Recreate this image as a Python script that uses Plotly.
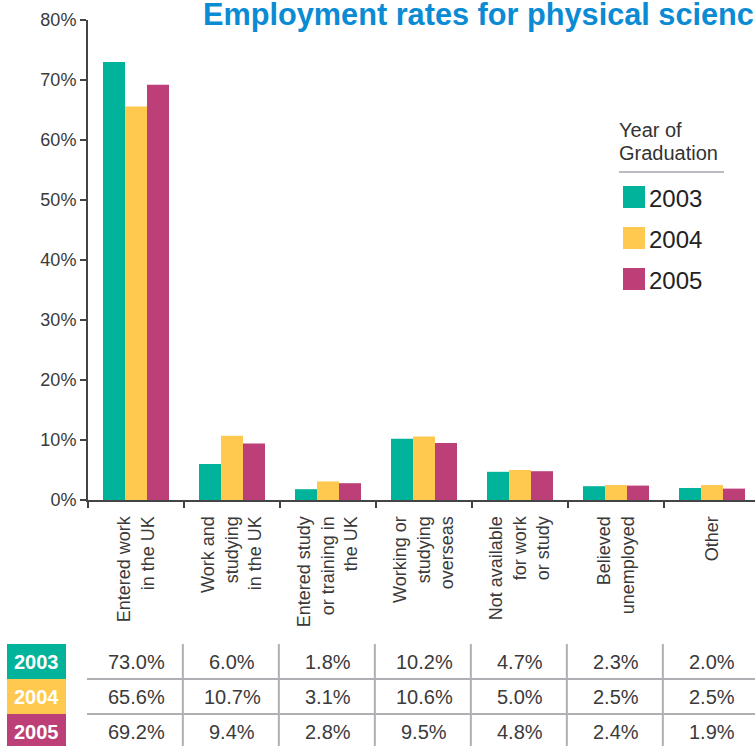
import plotly.graph_objects as go

categories = [
    "Entered work<br>in the UK",
    "Work and<br>studying<br>in the UK",
    "Entered study<br>or training in<br>the UK",
    "Working or<br>studying<br>overseas",
    "Not available<br>for work<br>or study",
    "Believed<br>unemployed",
    "Other",
]
years = ["2003", "2004", "2005"]
values_2003 = [73.0, 6.0, 1.8, 10.2, 4.7, 2.3, 2.0]
values_2004 = [65.6, 10.7, 3.1, 10.6, 5.0, 2.5, 2.5]
values_2005 = [69.2, 9.4, 2.8, 9.5, 4.8, 2.4, 1.9]
series = [values_2003, values_2004, values_2005]
colors = ["#00B39A", "#FFC94F", "#BD3F78"]
title_text = "Employment rates for physical sciences graduates"
legend_title = ["Year of", "Graduation"]

FONT = "Liberation Sans, Arial, Helvetica, sans-serif"
W, H = 755, 746
L, T, B = 88, 20, 246
PW = W - L
PH = H - T - B


def px_x(px):
    return (px - L) / PW


def px_y(py):
    return (T + PH - py) / PH


fig = go.Figure()
for yr, vals, col in zip(years, series, colors):
    fig.add_trace(go.Bar(x=categories, y=vals, name=yr,
                         marker=dict(color=col, line=dict(width=0)),
                         hoverinfo="x+y"))

shapes = []
annotations = []

# Title
annotations.append(dict(text=title_text, xref="paper", yref="paper",
                        x=px_x(201), y=px_y(15), xanchor="left", yanchor="middle",
                        showarrow=False,
                        font=dict(family=FONT, size=30.7, color="#0A8BD3", weight="bold")))

# Legend (manual)
for i, line in enumerate(legend_title):
    annotations.append(dict(text=line, xref="paper", yref="paper",
                            x=px_x(617), y=px_y(130 + 23 * i), xanchor="left",
                            yanchor="middle", showarrow=False,
                            font=dict(family=FONT, size=20, color="#333333")))
shapes.append(dict(type="line", xref="paper", yref="paper",
                   x0=px_x(619), x1=px_x(724), y0=px_y(172), y1=px_y(172),
                   line=dict(color="#A5A5AD", width=1.5)))
for i, (yr, col) in enumerate(zip(years, colors)):
    top = 186 + 41 * i
    shapes.append(dict(type="rect", xref="paper", yref="paper",
                       x0=px_x(623), x1=px_x(645), y0=px_y(top), y1=px_y(top + 22),
                       fillcolor=col, line=dict(width=0)))
    annotations.append(dict(text=yr, xref="paper", yref="paper",
                            x=px_x(647), y=px_y(top + 12), xanchor="left",
                            yanchor="middle", showarrow=False,
                            font=dict(family=FONT, size=24, color="#222222")))

# Table
row_tops = [644, 679, 714]
for r, (yr, col, vals) in enumerate(zip(years, colors, series)):
    t0 = row_tops[r]
    shapes.append(dict(type="rect", xref="paper", yref="paper",
                       x0=px_x(7), x1=px_x(66), y0=px_y(t0), y1=px_y(t0 + 35),
                       fillcolor=col, line=dict(width=0)))
    annotations.append(dict(text=yr, xref="paper", yref="paper",
                            x=px_x(36.5), y=px_y(t0 + 18), xanchor="center",
                            yanchor="middle", showarrow=False,
                            font=dict(family=FONT, size=20, color="white", weight="bold")))
    for c, v in enumerate(vals):
        annotations.append(dict(text=f"{v:.1f}%", xref="x", yref="paper",
                                x=categories[c], y=px_y(t0 + 18), xanchor="center",
                                yanchor="middle", showarrow=False,
                                font=dict(family=FONT, size=20, color="#3A3A3A")))
for k in range(len(categories)):
    shapes.append(dict(type="line", xref="x", yref="paper",
                       x0=k - 0.5 - 0.012, x1=k - 0.5 - 0.012,
                       y0=px_y(644), y1=px_y(750),
                       line=dict(color="#B0B0B4", width=2)))
for yy in [679, 714]:
    shapes.append(dict(type="line", xref="paper", yref="paper",
                       x0=px_x(87), x1=1.01, y0=px_y(yy), y1=px_y(yy),
                       line=dict(color="#B0B0B4", width=2)))

fig.update_layout(
    width=W, height=H, autosize=False,
    margin=dict(l=L, r=0, t=T, b=B, pad=0),
    paper_bgcolor="white", plot_bgcolor="white",
    barmode="group", bargap=0.3125, bargroupgap=0,
    showlegend=False,
    font=dict(family=FONT, color="#333333"),
    shapes=shapes, annotations=annotations,
    xaxis=dict(type="category", range=[-0.5, -0.5 + PW / 96.0],
               tickson="boundaries", ticks="outside", ticklen=6, tickwidth=2,
               tickcolor="#444444", showline=True, linecolor="#444444", linewidth=2,
               tickangle=-90, tickfont=dict(family=FONT, size=18, color="#3A3A3A"),
               showgrid=False, ticklabelstandoff=7),
    yaxis=dict(range=[0, 80], dtick=10, ticksuffix="%", ticks="outside",
               ticklen=6, tickwidth=2, tickcolor="#444444", showline=True,
               linecolor="#444444", linewidth=2, showgrid=False, zeroline=False,
               tickfont=dict(family=FONT, size=18, color="#3A3A3A")),
)

fig.write_html("out.html", config={"displayModeBar": False},
               post_script="document.body.style.margin='0';document.body.style.overflow='hidden';")
